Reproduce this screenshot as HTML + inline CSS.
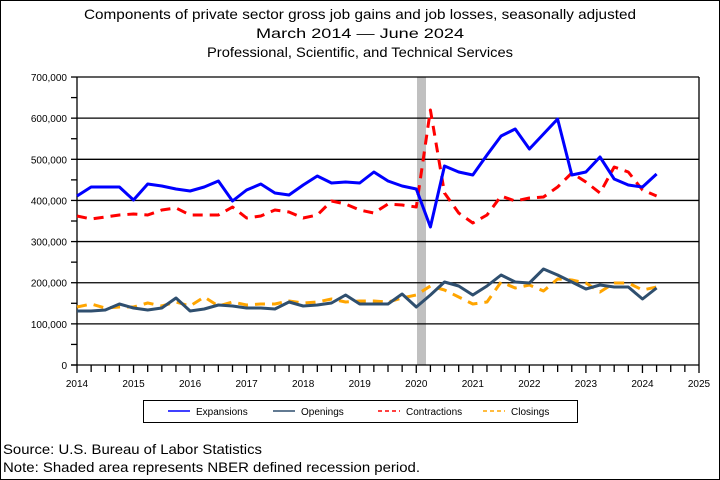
<!DOCTYPE html>
<html><head><meta charset="utf-8"><style>
html,body{margin:0;padding:0;background:#fff}
svg{display:block}
text{font-family:"Liberation Sans",sans-serif}
</style></head><body>
<svg id="s" width="720" height="480" xmlns="http://www.w3.org/2000/svg">
<rect x="0.5" y="0.5" width="719" height="479" fill="#fff" stroke="#000" stroke-width="1"/>
<text x="360" y="19" font-size="14" text-anchor="middle" textLength="552" lengthAdjust="spacingAndGlyphs">Components of private sector gross job gains and job losses, seasonally adjusted</text>
<text x="360" y="38" font-size="14" text-anchor="middle" textLength="208" lengthAdjust="spacingAndGlyphs">March 2014 — June 2024</text>
<text x="360" y="57" font-size="14" text-anchor="middle" textLength="306" lengthAdjust="spacingAndGlyphs">Professional, Scientific, and Technical Services</text>
<rect x="417" y="77" width="9" height="288" fill="#c0c0c0"/>
<g id="grid" stroke="#000" stroke-width="1.3"></g>
<g id="lab" font-size="10" fill="#000"></g>
<g id="series" fill="none" stroke-width="3" stroke-linejoin="round"></g>
<rect x="143.5" y="400.5" width="434" height="22" fill="#fff" stroke="#000"/>
<line x1="168" y1="411" x2="190" y2="411" stroke="#0000ff" stroke-width="1.5"/>
<text x="196" y="415" font-size="10">Expansions</text>
<line x1="273" y1="411" x2="295" y2="411" stroke="#2f4f6f" stroke-width="1.5"/>
<text x="301" y="415" font-size="10">Openings</text>
<line x1="378" y1="411" x2="400" y2="411" stroke="#ff0000" stroke-width="1.5" stroke-dasharray="4,3"/>
<text x="406" y="415" font-size="10">Contractions</text>
<line x1="483" y1="411" x2="505" y2="411" stroke="#ffa500" stroke-width="1.5" stroke-dasharray="4,3"/>
<text x="511" y="415" font-size="10">Closings</text>
<text x="3" y="454" font-size="14" textLength="259" lengthAdjust="spacingAndGlyphs">Source: U.S. Bureau of Labor Statistics</text>
<text x="3" y="472" font-size="14" textLength="417" lengthAdjust="spacingAndGlyphs">Note: Shaded area represents NBER defined recession period.</text>
</svg>
<script>
var ns="http://www.w3.org/2000/svg";
function el(p,t,a,txt){var e=document.createElementNS(ns,t);for(var k in a)e.setAttribute(k,a[k]);if(txt!=null)e.textContent=txt;p.appendChild(e);return e;}
var g=document.getElementById('grid'),lab=document.getElementById('lab'),se=document.getElementById('series');
var x0=77,x1=699,yb=365,yt=77;
for(var v=1;v<=7;v++){var y=yb-v*41.14;el(g,'line',{x1:x0,x2:x1,y1:y,y2:y});}
el(g,'line',{x1:x0,x2:x0,y1:yt,y2:yb});
el(g,'line',{x1:x1,x2:x1,y1:yt,y2:yb});
el(g,'line',{x1:x0-6,x2:x1,y1:yb,y2:yb});
for(var v=0;v<=7;v++){var y=yb-v*41.14;el(g,'line',{x1:x0-6,x2:x0,y1:y,y2:y});
 el(lab,'text',{x:x0-10,y:y+4,'text-anchor':'end'},v==0?'0':(v*100)+',000');
 if(v<7){var ym=y-20.57;el(g,'line',{x1:x0-6,x2:x0,y1:ym,y2:ym});}}
var yw=(x1-x0)/11;
for(var i=0;i<=44;i++){var x=x0+i*yw/4;el(g,'line',{x1:x,x2:x,y1:yb,y2:yb+(i%4==0?8:7)});}
for(var i=0;i<=11;i++){el(lab,'text',{x:x0+i*yw,y:yb+22,'text-anchor':'middle'},String(2014+i));}
var E=[196,187,187,187,200,184,186,189,191,187,181,201,190,184,193,195,185,176,183,182,183,172,181,186,189,227,166,172,175,155,136,129,149,134,119,175,172,157,179,185,187,174];
var C=[216,219,217,215,214,215,210,208,215,215,215,207,218,216,210,212,218,215,201,204,210,213,204,205,207,110,193,213,223,215,196,201,198,197,187,173,182,193,167,172,190,196];
var O=[311,311,310,304,308,310,308,298,311,309,305,306,308,308,309,302,306,305,303,295,304,304,304,294,307,295,282,286,295,286,275,282,283,269,275,282,289,285,287,287,299,288];
var L=[307,304,308,307,307,303,306,302,306,297,306,302,305,304,304,301,303,302,299,302,301,301,302,298,295,286,290,297,304,302,282,288,285,291,279,280,283,292,283,283,290,287];
function pts(a){return a.map(function(y,i){return (x0+i*yw/4).toFixed(1)+','+y;}).join(' ');}
el(se,'polyline',{points:pts(L),stroke:'#ffa500','stroke-dasharray':'10,7'});
el(se,'polyline',{points:pts(O),stroke:'#2f4f6f'});
el(se,'polyline',{points:pts(C),stroke:'#ff0000','stroke-dasharray':'10,7'});
el(se,'polyline',{points:pts(E),stroke:'#0000ff'});
</script>
</body></html>
